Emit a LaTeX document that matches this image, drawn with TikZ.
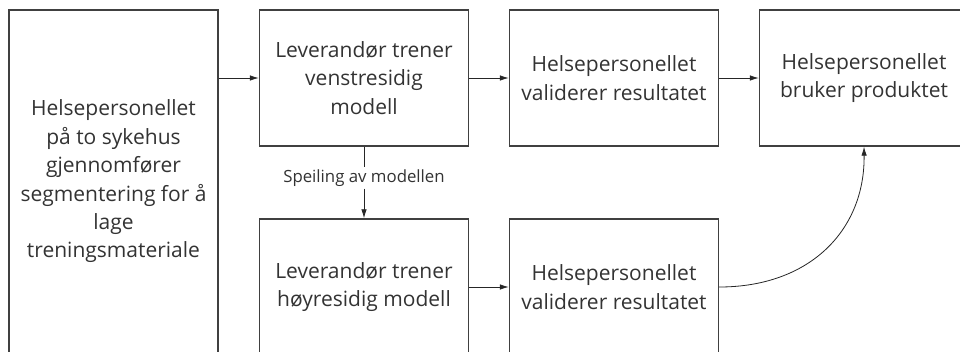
\documentclass[tikz,border=0pt]{standalone}
\usepackage{fontspec}
\setmainfont{Open Sans}
\usetikzlibrary{arrows.meta}

\definecolor{ink}{HTML}{333333}
\definecolor{edge}{HTML}{404040}

\tikzset{
  stagebox/.style={draw=edge, line width=1.4pt, rectangle, align=center,
    text=ink, minimum width=209pt, minimum height=136pt, inner sep=0pt,
    font=\fontsize{21}{28.4}\selectfont},
  flow/.style={draw=black!85, line width=0.8pt, -{Latex[length=9pt,width=5.5pt]}},
  note/.style={fill=white, text=ink, inner sep=2pt, font=\fontsize{16.8}{19}\selectfont}
}

\begin{document}
\begin{tikzpicture}[x=1pt, y=-1pt]
  \useasboundingbox (0,0) rectangle (960,351);
  \clip (0,0) rectangle (960,351);

  % stages
  \node[stagebox, minimum height=343pt] (data) at (113.5,181.5)
    {Helsepersonellet\\på to sykehus\\gjennomfører\\segmentering for å\\lage\\treningsmateriale};
  \node[stagebox] (left)  at (364,78)  {Leverandør trener\\venstresidig\\modell};
  \node[stagebox] (valL)  at (614,78)  {Helsepersonellet\\validerer resultatet};
  \node[stagebox] (use)   at (864,78)  {Helsepersonellet\\bruker produktet};
  \node[stagebox] (right) at (364,287) {Leverandør trener\\høyresidig modell};
  \node[stagebox] (valR)  at (614,287) {Helsepersonellet\\validerer resultatet};

  % mirroring label on the vertical link
  \node[note] (mirror) at (364,178) {Speiling av modellen};

  % connectors
  \draw[flow] (data.east |- left) -- (left.west);
  \draw[flow] (left) -- (valL);
  \draw[flow] (valL) -- (use);
  \draw[draw=black!85, line width=0.8pt] (left.south) -- (mirror.north);
  \draw[flow] (mirror.south) -- (right.north);
  \draw[flow] (right) -- (valR);
  \draw[flow] (valR.east) .. controls (810,287) and (865,230) .. (use.south);
\end{tikzpicture}
\end{document}
